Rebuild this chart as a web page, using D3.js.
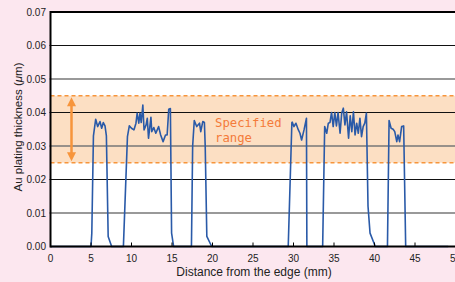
<!DOCTYPE html>
<html>
<head>
<meta charset="utf-8">
<script src="https://cdn.jsdelivr.net/npm/d3@7"></script>
<style>
  html, body { margin: 0; padding: 0; background: #fce7ef; }
  svg { display: block; }
  text { font-family: "Liberation Sans", Arial, sans-serif; }
</style>
</head>
<body>
<svg id="chart" width="455" height="282"></svg>
<script>
// thickness profile
const distance = [0, 5.0, 5.1, 5.3, 5.58, 5.82, 6.11, 6.32, 6.52, 6.73, 6.9, 7.12, 7.55,
  9.0, 9.5, 9.73, 10.0, 10.3, 10.55, 10.7, 10.9, 11.05, 11.2, 11.4, 11.55, 11.8, 11.95, 12.1, 12.4, 12.5, 12.75, 13.0, 13.35, 13.6, 13.9, 14.2, 14.4, 14.6, 14.8, 14.95, 15.2,
  17.4, 17.55, 17.75, 18.05, 18.4, 18.55, 18.8, 19.0, 19.1, 19.3, 19.9,
  29.35, 29.8, 29.85, 30.05, 30.3, 30.6, 30.8, 31.0, 31.3, 31.6, 31.65,
  33.6, 33.85, 34.1, 34.3, 34.5, 34.7, 34.9, 35.1, 35.3, 35.5, 35.75, 35.95, 36.15, 36.35, 36.55, 36.8, 37.0, 37.2, 37.4, 37.6, 37.8, 38.0, 38.2, 38.4, 38.6, 38.8, 39.0, 39.2, 39.45, 40.1,
  41.6, 41.8, 42.05, 42.3, 42.5, 42.75, 42.9, 43.1, 43.35, 43.6, 43.85, 49.1];
const thickness = [0, 0, 0.004, 0.033, 0.038, 0.0358, 0.0373, 0.0353, 0.037, 0.036, 0.033, 0.003, 0,
  0, 0.0328, 0.036, 0.0353, 0.0348, 0.0368, 0.0398, 0.0368, 0.0398, 0.037, 0.0422, 0.0348, 0.0363, 0.0383, 0.0323, 0.0386, 0.0343, 0.0355, 0.0338, 0.0358, 0.0333, 0.0313, 0.0333, 0.0333, 0.041, 0.0412, 0.004, 0,
  0, 0.03, 0.0376, 0.0358, 0.0368, 0.0343, 0.0373, 0.037, 0.03, 0.003, 0,
  0, 0.037, 0.0371, 0.0358, 0.0368, 0.0348, 0.0338, 0.0318, 0.0348, 0.0383, 0,
  0, 0.0358, 0.0338, 0.0368, 0.037, 0.040, 0.0358, 0.040, 0.036, 0.040, 0.0338, 0.0398, 0.0413, 0.0363, 0.0402, 0.0323, 0.039, 0.0343, 0.0402, 0.0333, 0.0368, 0.0338, 0.0383, 0.0328, 0.0358, 0.0368, 0.0398, 0.012, 0.004, 0,
  0, 0.0376, 0.0353, 0.035, 0.0343, 0.0313, 0.0333, 0.0313, 0.0358, 0.036, 0, 0];

const xTicks = [0, 5, 10, 15, 20, 25, 30, 35, 40, 45, 50];
const yTicks = [0, 0.01, 0.02, 0.03, 0.04, 0.05, 0.06, 0.07];
const specRange = [0.025, 0.045];
const specLabel = ["Specified", "range"];

const svg = d3.select('#chart');
const x = d3.scaleLinear().domain([0, 50]).range([50.5, 455.5]);
const y = d3.scaleLinear().domain([0, 0.07]).range([246.5, 12]);

// plot background
svg.append('rect')
    .attr('x', x(0)).attr('y', y(0.07))
    .attr('width', 455 - x(0)).attr('height', y(0) - y(0.07))
    .attr('fill', '#fff');

// specified range band
svg.append('rect')
    .attr('x', x(0)).attr('y', y(specRange[1]))
    .attr('width', 455 - x(0)).attr('height', y(specRange[0]) - y(specRange[1]))
    .attr('fill', '#fcdfc3');

// gridlines: black / grey alternating
svg.append('g').selectAll('line')
    .data(yTicks.filter(d => d > 0 && d < 0.07))
    .enter().append('line')
    .attr('x1', x(0) - 1).attr('x2', 455)
    .attr('y1', d => y(d)).attr('y2', d => y(d))
    .attr('stroke', (d, i) => i % 2 === 0 ? '#777' : '#111')
    .attr('stroke-width', (d, i) => i % 2 === 0 ? 1.6 : 1);

// dashed boundaries
svg.append('g').selectAll('line')
    .data(specRange)
    .enter().append('line')
    .attr('x1', x(0)).attr('x2', 455)
    .attr('y1', d => y(d)).attr('y2', d => y(d))
    .attr('stroke', '#f7953b')
    .attr('stroke-width', 1.5)
    .attr('stroke-dasharray', '4,3');

// data line
const line = d3.line()
    .x((d, i) => x(distance[i]))
    .y(d => y(d));
svg.append('path')
    .datum(thickness)
    .attr('d', line)
    .attr('fill', 'none')
    .attr('stroke', '#2a5aa8')
    .attr('stroke-width', 1.6)
    .attr('stroke-linejoin', 'round');

// axes frame
svg.append('line')
    .attr('x1', x(0)).attr('x2', x(0)).attr('y1', y(0.07) - 1).attr('y2', y(0) + 1)
    .attr('stroke', '#000').attr('stroke-width', 2);
svg.append('line')
    .attr('x1', x(0)).attr('x2', 455).attr('y1', y(0)).attr('y2', y(0))
    .attr('stroke', '#000').attr('stroke-width', 2);
svg.append('line')
    .attr('x1', x(0)).attr('x2', 455).attr('y1', y(0.07)).attr('y2', y(0.07))
    .attr('stroke', '#000').attr('stroke-width', 2);

// x ticks (inward) + labels
svg.append('g').selectAll('line')
    .data(xTicks.slice(1))
    .enter().append('line')
    .attr('x1', d => x(d)).attr('x2', d => x(d))
    .attr('y1', y(0)).attr('y2', y(0) - 4)
    .attr('stroke', '#000').attr('stroke-width', 1);
svg.append('g').selectAll('text')
    .data(xTicks)
    .enter().append('text')
    .attr('x', d => x(d)).attr('y', 262)
    .attr('text-anchor', 'middle')
    .attr('font-size', 10)
    .attr('fill', '#222')
    .text(d => d);

// y labels
svg.append('g').selectAll('text')
    .data(yTicks)
    .enter().append('text')
    .attr('x', 46).attr('y', d => y(d) + 3.5)
    .attr('text-anchor', 'end')
    .attr('font-size', 10)
    .attr('fill', '#222')
    .text(d => d3.format('.2f')(d));

// axis titles
svg.append('text')
    .attr('x', 254).attr('y', 276)
    .attr('text-anchor', 'middle')
    .attr('font-size', 12)
    .attr('fill', '#222')
    .text('Distance from the edge (mm)');

const yTitle = svg.append('text')
    .attr('transform', 'translate(22,' + 127 + ') rotate(-90)')
    .attr('text-anchor', 'middle')
    .attr('font-size', 11.5)
    .attr('fill', '#222');
yTitle.append('tspan').text('Au plating thickness (');
yTitle.append('tspan').attr('font-style', 'italic').text('μ');
yTitle.append('tspan').text('m)');

// double arrow
const ax = 71.5;
const aTop = y(specRange[1]) + 1.5, aBot = y(specRange[0]) - 1.5;
svg.append('line')
    .attr('x1', ax).attr('x2', ax).attr('y1', aTop + 6).attr('y2', aBot - 6)
    .attr('stroke', '#f7953b').attr('stroke-width', 2.5);
svg.append('path')
    .attr('d', `M${ax},${aTop} L${ax - 4.5},${aTop + 9} L${ax + 4.5},${aTop + 9} Z`)
    .attr('fill', '#f7953b');
svg.append('path')
    .attr('d', `M${ax},${aBot} L${ax - 4.5},${aBot - 9} L${ax + 4.5},${aBot - 9} Z`)
    .attr('fill', '#f7953b');

// range label
svg.append('g').selectAll('text')
    .data(specLabel)
    .enter().append('text')
    .attr('x', 215).attr('y', (d, i) => 127 + i * 14.5)
    .style('font-family', '"DejaVu Sans Mono", monospace')
    .attr('font-size', 12.3)
    .attr('fill', '#f47b3a')
    .text(d => d);
</script>
</body>
</html>
